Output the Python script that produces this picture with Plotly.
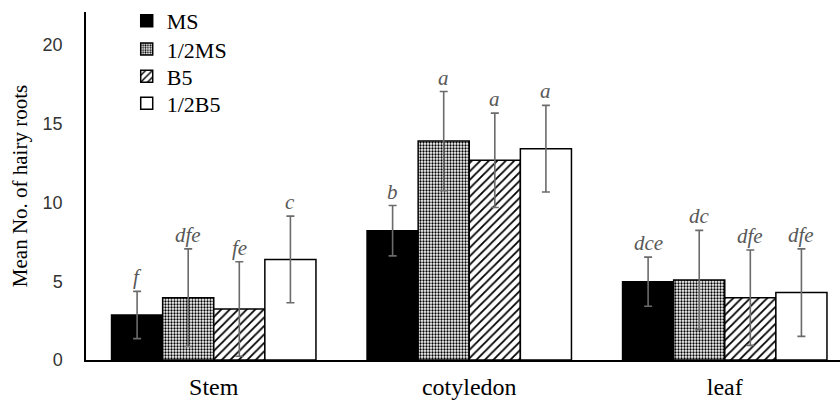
import plotly.graph_objects as go

categories = ["Stem", "cotyledon", "leaf"]
series_names = ["MS", "1/2MS", "B5", "1/2B5"]
means = {
    "MS": [2.86, 8.21, 4.97],
    "1/2MS": [3.96, 13.9, 5.08],
    "B5": [3.24, 12.68, 3.96],
    "1/2B5": [6.39, 13.42, 4.28],
}
errors = {
    "MS": [1.5, 1.6, 1.56],
    "1/2MS": [3.1, 3.15, 3.15],
    "B5": [3.0, 3.0, 3.03],
    "1/2B5": [2.75, 2.75, 2.78],
}
letters = {
    "MS": ["f", "b", "dce"],
    "1/2MS": ["dfe", "a", "dc"],
    "B5": ["fe", "a", "dfe"],
    "1/2B5": ["c", "a", "dfe"],
}
y_ticks = [0, 5, 10, 15, 20]

styles = {
    "MS": dict(color="black", pattern=None),
    "1/2MS": dict(color="white", pattern=dict(shape=".", fgcolor="black", bgcolor="white", size=3, solidity=0.45, fillmode="replace")),
    "B5": dict(color="white", pattern=dict(shape="/", fgcolor="black", bgcolor="white", size=6, solidity=0.3, fillmode="replace")),
    "1/2B5": dict(color="white", pattern=None),
}

serif = "Liberation Serif, Times New Roman, serif"
legend_ids = ["legend", "legend2", "legend3", "legend4"]
legend_rows_y = [0.974, 0.893, 0.815, 0.737]

fig = go.Figure()
for name, lid in zip(series_names, legend_ids):
    st = styles[name]
    marker = dict(color=st["color"], line=dict(color="black", width=1.5))
    if st["pattern"]:
        marker["pattern"] = st["pattern"]
    fig.add_trace(go.Bar(
        name=name, x=categories, y=means[name],
        marker=marker, legend=lid,
        error_y=dict(type="data", array=errors[name], color="#6b6b6b", thickness=1.6, width=4),
    ))

n = len(series_names)
bargap = 0.2
bw = (1 - bargap) / n
annotations = []
for i, name in enumerate(series_names):
    for j, cat in enumerate(categories):
        annotations.append(dict(
            x=j + (i - (n - 1) / 2) * bw, y=means[name][j] + errors[name][j],
            xref="x", yref="y", text=letters[name][j], showarrow=False,
            yanchor="bottom", yshift=0,
            font=dict(family=serif, size=21, color="#595959", style="italic"),
        ))

legend_common = dict(x=0.054, xanchor="left", yanchor="middle",
                     font=dict(family=serif, size=22, color="black"),
                     itemwidth=30, bgcolor="rgba(0,0,0,0)")
layout_legends = {lid: dict(legend_common, y=yy) for lid, yy in zip(legend_ids, legend_rows_y)}

fig.update_layout(
    width=840, height=402,
    margin=dict(l=86, r=0, t=12, b=42, autoexpand=False),
    paper_bgcolor="white", plot_bgcolor="white",
    barmode="group", bargap=bargap, bargroupgap=0,
    showlegend=True,
    annotations=annotations,
    **layout_legends,
)
fig.update_xaxes(
    range=[-0.5, 2.451], showline=True, linecolor="black", linewidth=1.5,
    ticks="", showgrid=False, tickfont=dict(family=serif, size=24, color="black"),
    ticklabelstandoff=4, automargin=False,
)
fig.update_yaxes(
    range=[0, 22.1], tickvals=y_ticks, showline=True, linecolor="black", linewidth=1.5,
    ticks="", showgrid=False, zeroline=False,
    tickfont=dict(family="Liberation Sans, Arial, sans-serif", size=18, color="#333333"),
    ticklabelstandoff=18, automargin=False,
    title=dict(text="Mean No. of hairy roots", font=dict(family=serif, size=21, color="black"), standoff=9),
)
fig.write_html("out.html", config={"displayModeBar": False},
               post_script="document.body.style.margin='0';document.body.style.overflow='hidden';")
